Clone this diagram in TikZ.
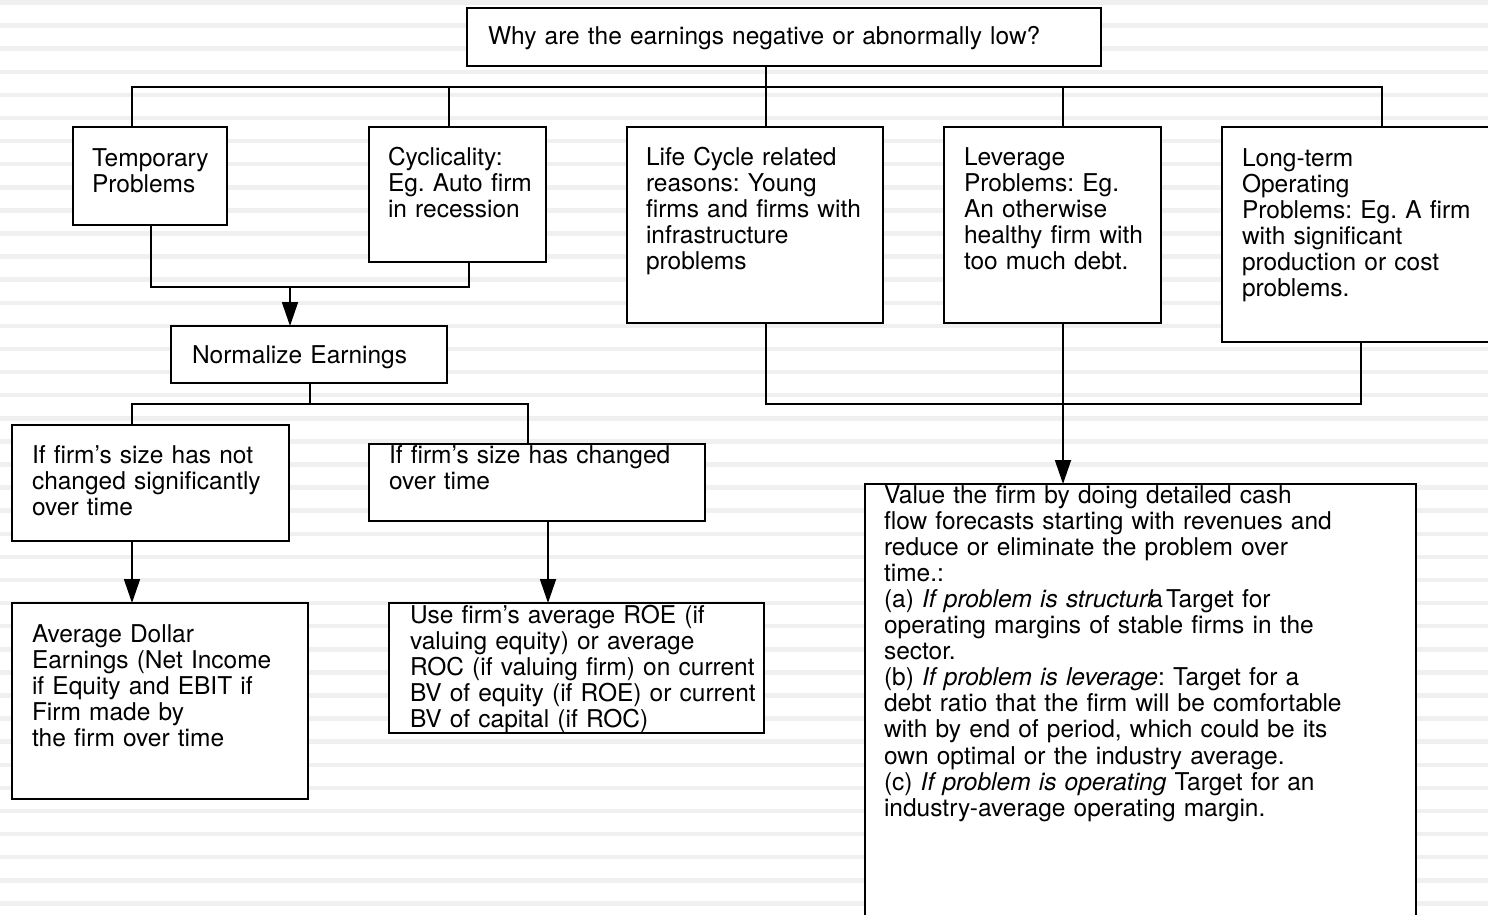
\documentclass[tikz,border=0pt]{standalone}
\usepackage{fontspec}
\setmainfont{TeX Gyre Heros}
\usetikzlibrary{arrows.meta,calc}
\frenchspacing
\begin{document}
\begin{tikzpicture}[x=1pt,y=-1pt,
  box/.style={draw=black, fill=white, line width=1.8pt, inner sep=0pt, outer sep=0pt, anchor=north west},
  txt/.style={anchor=base west, inner sep=0pt, outer sep=0pt, align=left, text width=600pt, font=\frenchspacing\fontsize{24.5}{26.1}\selectfont},
  conn/.style={line width=1.8pt, line join=miter},
  arr/.style={conn, -{Triangle[length=24pt,width=16pt]}},
  stripe/.style={line width=4.5pt, color=black!6}]
\useasboundingbox (0,0) rectangle (1488,915);
\clip (0,0) rectangle (1488,915);
\fill[white] (0,0) rectangle (1488,915);
\foreach \k in {0,...,39}{
  \pgfmathsetmacro{\yy}{2.5+23.1*\k}
  \draw[stripe] (0,\yy) -- (1488,\yy);
}
% boxes
\node[box, minimum width=634pt, minimum height=58pt] (q) at (467,8) {};
\node[box, minimum width=154pt, minimum height=98pt] (tmp) at (73,127) {};
\node[box, minimum width=177pt, minimum height=135pt] (cyc) at (369,127) {};
\node[box, minimum width=256pt, minimum height=196pt] (lc) at (627,127) {};
\node[box, minimum width=217pt, minimum height=196pt] (lev) at (944,127) {};
\node[box, minimum width=290pt, minimum height=215pt] (lt) at (1222,127) {};
\node[box, minimum width=276pt, minimum height=57pt] (norm) at (171,326) {};
\node[box, minimum width=277pt, minimum height=116pt] (nc) at (12,425) {};
\node[box, minimum width=336pt, minimum height=77pt] (ch) at (369,444) {};
\node[box, minimum width=296pt, minimum height=196pt] (avg) at (12,603) {};
\node[box, minimum width=375pt, minimum height=130pt] (roe) at (389,603) {};
\node[box, minimum width=551pt, minimum height=450pt] (val) at (865,484) {};
% bus coordinates
\coordinate (t1) at (132,87);
\coordinate (t2) at (449,87);
\coordinate (t3) at (766,87);
\coordinate (t4) at (1063,87);
\coordinate (t5) at (1382,87);
\coordinate (m1) at (151,287);
\coordinate (m2) at (469,287);
\coordinate (m3) at (290,287);
\coordinate (n0) at (310,404);
\coordinate (n1) at (132,404);
\coordinate (n2) at (528,404);
\coordinate (c1) at (548,560);
\coordinate (r1) at (766,404);
\coordinate (r2) at (1063,404);
\coordinate (r3) at (1361,404);
% connectors
\draw[conn] (q.south -| t3) -- (t3);
\draw[conn] (tmp.north -| t1) -- (t1) -- (t5) -- (lt.north -| t5);
\draw[conn] (t2) -- (cyc.north -| t2);
\draw[conn] (t3) -- (lc.north -| t3);
\draw[conn] (t4) -- (lev.north -| t4);
\draw[conn] (tmp.south -| m1) -- (m1) -- (m2) -- (cyc.south -| m2);
\draw[arr] (m3) -- (norm.north -| m3);
\draw[conn] (norm.south -| n0) -- (n0);
\draw[conn] (nc.north -| n1) -- (n1) -- (n2) -- (ch.north -| n2);
\draw[arr] (nc.south -| n1) -- (avg.north -| n1);
\draw[arr] (ch.south -| c1) -- (roe.north -| c1);
\draw[conn] (lc.south -| r1) -- (r1) -- (r3) -- (lt.south -| r3);
\draw[arr] (lev.south -| r2) -- (val.north -| r2);
% texts
\node[txt] (qT) at (488,45) {Why are the earnings negative or abnormally low?};
\node[txt] (tmpT) at (92,166) {Temporary\\Problems};
\node[txt] (cycT) at (388,165) {Cyclicality:\\Eg. Auto firm\\in recession};
\node[txt] (lcT) at (646,165) {Life Cycle related\\reasons: Young\\firms and firms with\\infrastructure\\problems};
\node[txt] (levT) at (964,165) {Leverage\\Problems: Eg.\\An otherwise\\healthy firm with\\too much debt.};
\node[txt] (ltT) at (1242,166) {Long-term\\Operating\\Problems: Eg. A firm\\with significant\\production or cost\\problems.};
\node[txt] (normT) at (192,363) {Normalize Earnings};
\node[txt] (ncT) at (32,463) {If firm’s size has not\\changed significantly\\over time};
\node[txt] (chT) at (389,463) {If firm’s size has changed\\over time};
\node[txt] (avgT) at (32,642) {Average Dollar\\Earnings (Net Income\\if Equity and EBIT if\\Firm made by\\the firm over time};
\node[txt] (roeT) at (410,623) {Use firm’s average ROE (if\\valuing equity) or average\\ROC (if valuing firm) on current\\BV of equity (if ROE) or current\\BV of capital (if ROC)};
\node[txt] (valT) at (884,503) {Value the firm by doing detailed cash\\flow forecasts starting with revenues and\\reduce or eliminate the problem over\\time.:\\(a) \textit{If problem is structurl}\kern-4pt a\kern3pt Target for\\operating margins of stable firms in the\\sector.\\(b) \textit{If problem is leverage}: Target for a\\debt ratio that the firm will be comfortable\\with by end of period, which could be its\\own optimal or the industry average.\\(c) \textit{If problem is operating} Target for an\\industry-average operating margin.};
\end{tikzpicture}
\end{document}
